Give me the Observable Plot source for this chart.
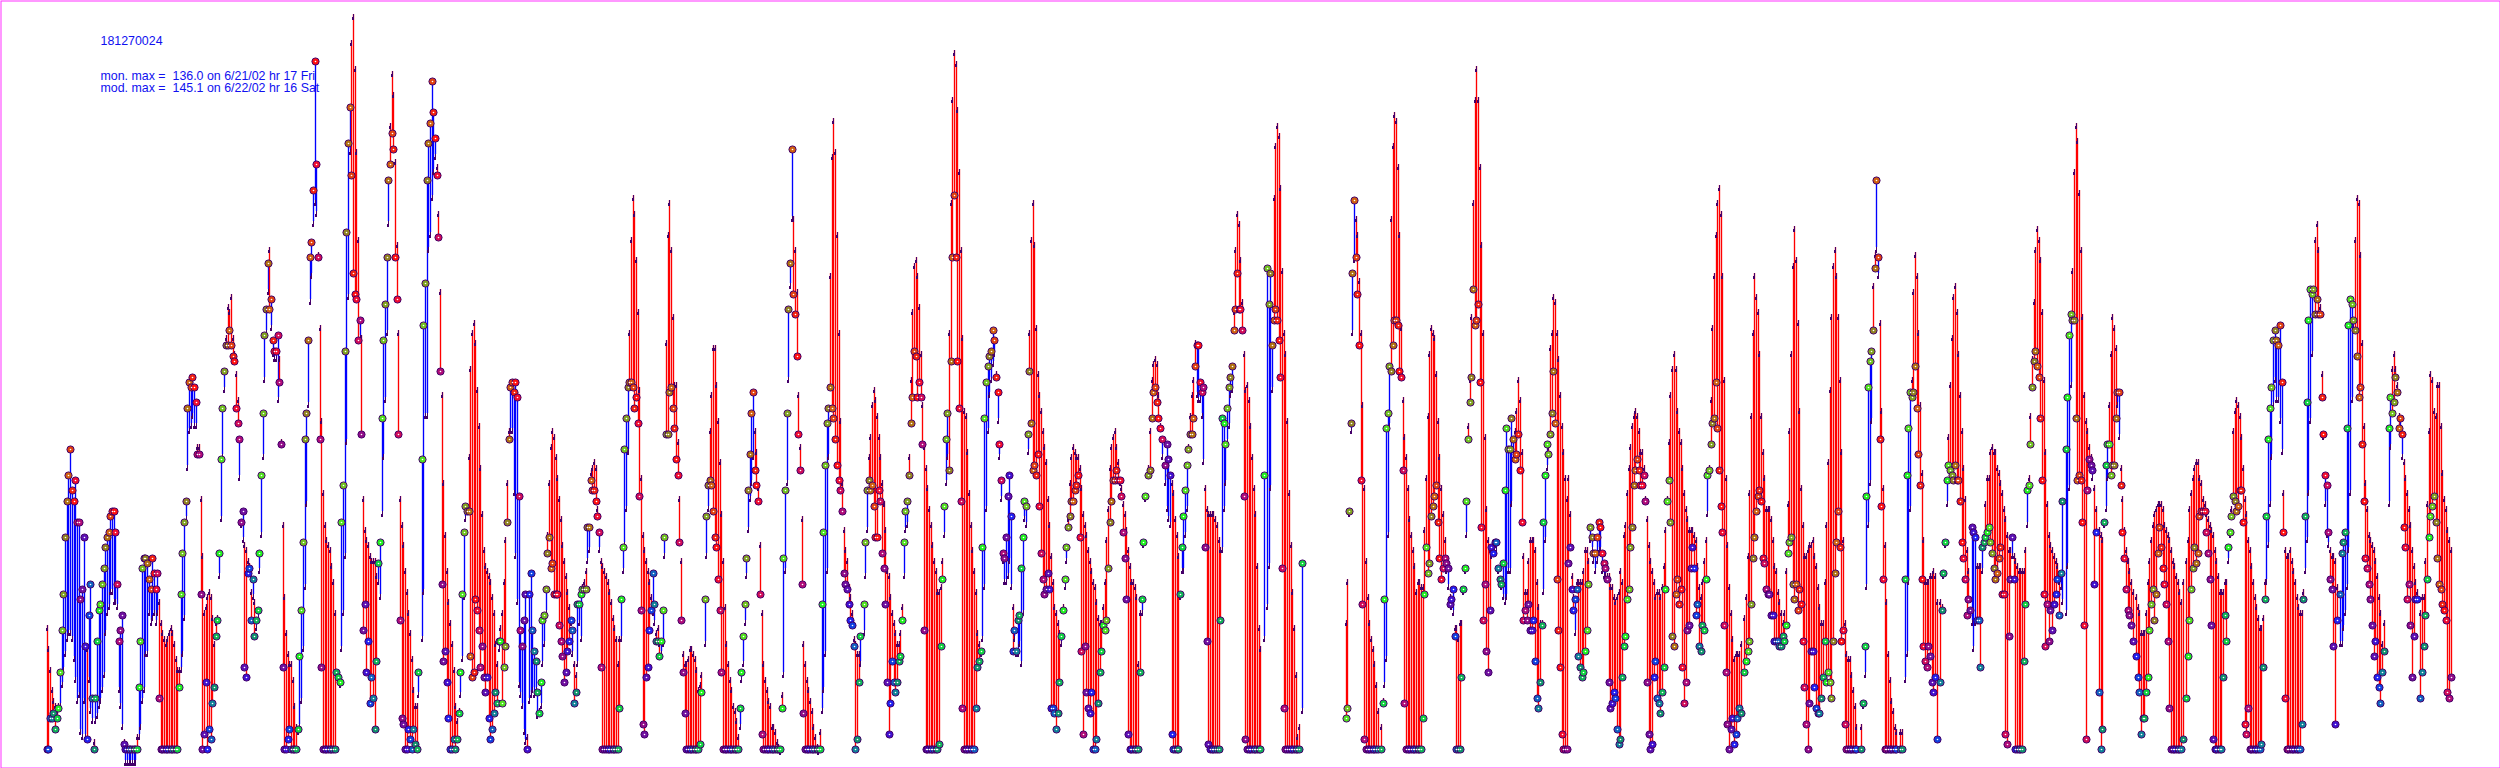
<!DOCTYPE html>
<html><head><meta charset="utf-8">
<style>html,body{margin:0;padding:0;background:#fff}svg{display:block}</style>
<script src="https://cdn.jsdelivr.net/npm/d3@7"></script>
<script src="https://cdn.jsdelivr.net/npm/@observablehq/plot@0.6"></script>
</head><body><div id="chart"></div>
<script>
const _=null;
// Each day: monitor, model pairs for hours 0..23 (ppb)
const d00=[_,_,_,_,_,_,_,_,_,_,_,_,_,_,3,27,3,23,9,19,9,15,10,13,7,12,9,11,11,12,18,12,26,16,33,19,44,22,51,25,56,26,61,26,53,25,51,21];
const d01=[55,17,47,13,47,14,32,7,34,6,44,13,23,6,5,23,29,17,35,11,13,9,3,5,13,9,24,10,30,12,31,13,35,15,38,18,42,26,44,30,45,31,48,34,49,34,49,32];
const d02=[45,32,35,31,24,15,26,12,29,8,4,5,3,1,3,1,3,1,3,1,3,1,3,1,3,1,3,6,15,6,24,8,38,13,40,15,40,22,39,22,36,30,34,28,40,29,37,30];
const d03=[34,28,37,30,13,32,3,28,3,26,3,25,3,24,3,25,3,26,3,27,3,26,3,24,3,21,3,19,15,19,33,19,41,22,47,29,51,48,69,58,74,65,73,66,75,68,73,66];
const d04=[70,66,60,62,60,62,33,52,3,41,6,30,16,31,3,33,7,34,5,33,12,29,15,24,25,28,28,29,41,37,59,48,69,60,76,73,81,83,81,89,84,88,81,91,79,83,78,80];
const d05=[69,76,66,71,63,56,47,47,49,44,19,43,17,42,37,40,38,39,28,34,36,33,25,32,28,27,30,29,41,38,56,45,68,60,83,75,88,84,97,92,88,100,90,85,82,80,80,79];
const d06=[80,79,83,71,74,79,62,63,19,47,3,33,3,26,5,22,7,20,3,20,3,17,3,12,3,8,7,7,21,8,30,13,43,23,63,35,68,51,82,70,98,90,101,95,111,105,136,109];
const d07=[116,107,98,99,63,85,19,67,3,53,3,47,3,44,3,43,3,42,3,39,3,36,3,30,18,18,17,17,16,16,47,23,54,30,80,41,103,63,120,91,127,119,114,140,95,145,91,135];
const d08=[90,119,82,102,86,83,64,83,26,52,31,46,18,44,24,43,12,41,17,40,13,40,7,40,20,37,39,36,43,33,67,49,82,60,89,71,98,84,113,105,116,124,122,134,119,130,98,117];
const d09=[90,101,64,84,28,52,9,47,8,43,3,38,3,34,7,30,5,26,3,21,7,15,4,12,3,12,18,14,_,_,59,25,85,34,93,68,113,68,120,100,124,103,132,110,126,115,121,118];
const d10=[114,116,102,107,76,92,35,72,20,55,22,45,16,38,9,32,3,28,3,24,5,19,3,12,5,9,10,11,18,14,33,21,45,33,50,48,49,50,49,60,21,77,17,84,18,86,32,82];
const d11=[30,73,26,66,19,58,23,49,17,42,14,39,17,38,9,37,5,36,7,33,10,30,14,24,12,20,24,23,24,27,12,30,19,36,23,44,47,55,63,65,73,65,74,65,72,53,74,41];
const d12=[71,32,52,16,26,14,23,12,28,7,33,5,3,6,33,13,37,14,26,15,22,14,20,15,14,10,10,11,16,12,28,20,29,24,34,30,41,45,44,55,38,62,39,65,33,64,33,60];
const d13=[33,56,27,52,24,48,21,43,16,40,18,37,22,34,24,31,28,28,26,22,12,20,14,18,31,20,31,28,33,25,34,35,34,36,34,38,46,40,46,42,55,57,53,58,53,59,51,58];
const d14=[48,50,45,42,19,40,3,39,3,38,3,37,3,36,3,34,3,32,3,29,3,27,3,25,3,20,11,25,32,25,42,38,61,43,67,50,73,61,74,84,74,102,73,110,69,107,71,98];
const d15=[66,88,52,73,30,56,8,45,6,42,17,40,19,38,26,36,30,33,37,30,31,28,24,26,24,27,21,24,24,22,30,24,44,41,64,82,64,103,72,109,73,100,69,87,65,74,59,74];
const d16=[56,63,43,52,28,40,18,22,10,20,3,20,3,21,3,23,3,23,3,22,3,21,3,19,3,15,4,16,14,18,_,_,32,24,48,41,54,50,55,65,54,72,49,81,44,81,42,74];
const d17=[36,67,30,59,18,49,3,40,3,31,3,24,3,20,3,17,3,15,3,12,3,11,3,9,3,6,11,8,18,17,25,20,31,28,40,37,53,46,60,52,68,55,72,60,57,65,54,61];
const d18=[51,54,33,43,6,30,3,20,3,17,3,15,3,13,3,12,3,8,3,8,3,7,3,5,3,4,3,3,11,14,40,18,53,38,68,55,88,75,97,93,119,106,91,106,87,100,79,92];
const d19=[64,72,57,62,35,48,10,24,3,20,3,17,3,15,3,13,3,11,3,8,3,6,3,4,3,3,3,7,31,11,45,15,58,22,66,38,69,60,73,95,69,118,67,125,63,119,58,103];
const d20=[55,84,53,67,49,55,37,46,35,42,34,40,31,35,28,33,27,30,23,25,3,24,5,22,16,22,25,20,_,_,31,26,43,37,53,46,55,60,53,64,54,70,50,73,44,71,44,68];
const d21=[53,64,51,60,41,55,38,51,31,46,16,38,6,37,12,33,20,30,16,28,14,26,16,24,20,24,21,26,28,31,43,37,49,46,51,47,56,60,66,75,71,88,80,97,79,98,71,95];
const d22=[74,89,71,80,62,70,26,62,3,58,3,54,3,50,3,47,3,43,3,40,3,38,3,34,4,34,23,35,36,40,50,45,63,55,68,60,57,84,78,109,98,129,110,138,98,136,78,127];
const d23=[69,115,51,100,11,83,3,69,3,68,3,61,3,53,3,47,3,42,3,38,11,34,19,26,20,24,22,22,42,25,67,35,74,50,77,65,79,72,80,75,84,78,82,80,75,76,72,67];
const d24=[62,60,55,52,41,40,40,36,44,36,52,37,56,40,48,35,22,31,26,25,22,22,28,22,29,24,38,20,44,30,51,48,50,47,64,61,76,84,66,102,57,109,58,101,56,85,60,76];
const d25=[50,72,41,69,36,65,33,62,34,59,37,52,34,47,11,41,11,36,10,31,7,30,10,28,16,26,25,24,30,31,36,35,42,40,46,48,48,55,51,60,51,62,53,61,54,60,56,60];
const d26=[44,58,22,54,6,49,23,47,14,45,11,42,10,40,14,38,3,36,3,35,5,32,12,29,18,28,22,28,27,31,26,36,28,44,38,50,47,58,51,62,55,64,55,65,57,62,55,59];
const d27=[55,55,52,54,45,51,40,49,32,46,6,42,3,39,3,36,3,36,3,35,3,33,3,20,18,30,32,30,43,43,52,52,_,_,56,58,57,65,67,75,72,78,73,79,70,78,67,72];
const d28=[65,66,63,60,_,_,58,55,62,50,59,48,56,47,6,55,3,53,3,48,3,45,3,41,33,33,42,38,48,38,53,45,58,50,61,62,64,68,64,72,67,75,77,82,81,72,81,71];
const d29=[74,71,72,68,73,59,42,54,24,50,4,49,3,49,3,49,3,49,3,48,3,47,3,44,28,42,67,42,66,50,62,55,69,63,73,66,75,72,77,73,84,88,88,100,95,107,88,105];
const d30=[88,98,84,90,52,80,5,73,3,74,3,71,3,66,3,60,3,54,3,49,3,39,3,27,3,23,_,_,56,25,_,_,96,31,89,39,95,54,81,73,86,110,88,120,86,124,82,122];
const d31=[75,112,38,96,11,84,3,80,3,67,3,53,3,43,3,34,3,27,3,18,3,6,3,8,_,_,39,11,_,_,_,_,_,_,_,_,_,_,_,_,_,_,_,_,_,_,_,_];
const d32=[_,_,_,_,_,_,_,_,_,_,_,_,_,_,_,_,_,_,_,_,_,_,_,_,_,_,_,_,_,_,9,28,11,36,49,49,66,65,95,84,109,98,98,106,91,103,81,94];
const d33=[55,84,31,70,5,54,3,40,3,33,3,28,3,25,3,23,3,20,3,16,3,11,_,_,3,8,12,13,32,16,65,21,68,45,77,66,76,106,81,120,86,126,86,125,85,116,76,103];
const d34=[75,85,57,71,12,64,3,60,3,54,3,48,3,45,3,42,3,39,3,34,3,36,3,36,3,35,9,35,33,46,42,56,37,68,39,80,48,85,50,84,52,83,54,76,47,67,40,60];
const d35=[36,54,38,49,40,44,39,38,38,35,31,33,32,31,34,30,25,27,3,27,3,25,3,28,17,28,34,34,38,38,51,45,63,66,70,75,75,87,92,109,85,129,86,135,89,129,74,116];
const d36=[46,101,28,84,35,64,22,50,18,44,30,42,42,41,41,43,43,43,43,42,38,38,36,36,35,35,39,33,53,32,65,33,61,38,61,38,67,51,63,60,59,65,60,69,64,75,57,71];
const d37=[47,61,28,41,30,34,28,34,31,40,26,44,26,44,28,44,20,42,13,36,11,31,16,28,27,28,47,34,56,44,62,58,60,62,64,81,68,84,76,91,66,90,36,84,26,79,19,72];
const d38=[6,66,3,61,3,56,3,52,39,56,42,49,34,37,30,33,32,26,34,36,21,36,19,36,17,36,18,38,22,42,26,42,35,40,46,44,44,42,41,40,41,38,44,40,47,42,46,42];
const d39=[41,38,39,37,38,37,36,37,16,37,11,35,12,35,14,33,13,32,7,33,4,34,5,38,17,36,23,45,25,47,32,53,34,58,42,62,46,66,54,68,57,69,59,68,57,65,54,61];
const d40=[54,61,56,58,51,52,16,48,6,43,3,40,4,38,17,36,20,33,13,34,12,34,10,33,14,35,19,39,34,46,51,52,55,63,47,72,25,77,23,80,33,77,36,69,31,65,34,63];
const d41=[19,58,12,53,16,50,26,48,27,46,38,46,42,46,38,45,29,44,31,39,23,35,22,33,27,36,26,40,36,44,56,49,57,58,62,71,66,85,67,95,74,103,65,109,57,112,50,107];
const d42=[45,95,27,75,18,56,8,43,3,35,7,30,9,25,4,21,6,22,9,22,11,22,10,24,_,_,18,29,20,33,22,41,24,53,31,68,40,84,44,95,49,91,52,88,53,80,51,68];
const d43=[40,61,39,56,34,50,33,50,33,50,29,48,29,44,24,39,24,38,24,34,23,32,23,30,25,28,24,30,27,38,41,51,43,65,44,80,35,97,32,104,35,98,30,86,34,69,31,54];
const d44=[24,47,15,41,8,41,3,42,12,43,22,43,22,44,15,41,11,39,10,35,10,31,13,28,17,28,24,36,16,47,18,59,16,73,13,87,24,97,37,100,43,95,49,87,42,75,24,61];
const d45=[26,44,8,28,3,22,3,21,3,21,3,18,3,15,3,12,3,8,_,_,_,_,3,8,12,12,23,18,52,35,73,47,78,55,80,67,84,93,96,99,113,100,98,95,63,86,50,69];
const d46=[36,54,3,43,3,32,3,22,3,17,3,13,3,11,3,8,3,7,_,_,3,7,3,7,_,_,36,17,56,22,65,36,72,50,71,75,72,92,77,99,69,95,60,84,54,70,36,57];
const d47=[23,44,20,36,19,36,23,36,21,37,16,37,14,38,17,37,5,32,_,_,16,32,30,31,37,37,43,43,55,51,58,64,57,74,56,83,55,91,58,93,55,88,55,80,51,72,43,65];
const d48=[40,58,36,52,29,42,32,38,30,30,46,28,45,23,44,28,28,39,28,39,19,39,42,38,43,44,44,51,45,56,46,56,43,61,41,62,38,61,36,61,37,58,40,57,42,55,33,53];
const d49=[33,50,6,48,4,45,25,42,36,42,44,41,36,41,3,40,3,39,3,38,3,38,3,38,20,38,31,42,53,47,54,56,62,68,73,79,78,90,80,100,77,104,75,102,67,98,55,88];
const d50=[33,75,23,61,31,51,24,45,30,43,26,42,31,41,33,40,36,39,29,36,37,35,51,32,_,_,61,30,71,39,83,54,87,74,86,96,86,115,67,124,55,121,56,111,55,100,47,87];
const d51=[27,72,5,67,53,65,59,62,58,60,57,56,35,54,45,50,_,_,14,46,3,45,7,44,47,47,58,50,62,56,62,70,56,80,58,87,58,85,67,81,72,70,72,64,54,58,45,52];
const d52=[40,46,34,42,30,40,29,38,27,36,24,34,_,_,21,33,17,31,14,30,6,26,9,26,9,26,14,30,17,36,26,40,31,44,34,47,28,49,33,50,41,51,46,51,42,51,38,50];
const d53=[35,47,31,46,24,45,11,44,3,42,3,40,3,39,3,37,3,36,3,34,3,32,5,36,_,_,13,40,21,44,28,50,34,53,38,56,42,58,39,59,41,59,48,56,49,55,49,52];
const d54=[49,51,45,49,41,48,36,47,27,46,5,45,3,42,3,40,3,37,3,34,3,34,17,34,29,36,24,36,42,40,45,45,48,50,52,65,51,69,49,71,50,70,53,68,53,64,47,58];
const d55=[8,52,6,49,11,44,3,42,3,39,3,36,3,33,3,31,3,29,3,27,4,27,19,29,32,36,48,36,63,43,69,51,73,60,82,70,84,75,82,71,81,71,85,67,74,61,45,53];
const d56=[13,42,3,41,3,41,3,42,3,40,3,38,3,36,3,33,3,31,3,30,8,30,32,34,48,38,70,44,86,53,92,67,91,80,92,92,87,102,90,105,87,100,87,89,71,76,64,64];
const d57=[56,51,54,45,45,43,36,42,34,41,23,41,8,40,28,35,_,_,33,24,41,24,43,27,45,30,65,35,85,42,90,53,89,71,86,85,84,102,79,110,71,109,73,99,62,82,51,66];
const d58=[40,55,38,50,35,45,32,44,27,43,21,42,24,40,17,37,15,33,12,30,18,24,22,28,_,_,_,_,65,51,71,62,68,77,70,80,75,77,72,74,65,68,67,65,64,60,46,59];
const d59=[42,56,32,53,35,50,27,47,17,42,25,39,32,36,32,34,_,_,13,30,18,33,23,33,29,40,36,51,44,65,48,76,50,75,52,69,47,68,40,74,35,74,34,66,31,57,30,52];
const d60=[28,50,14,46,13,44,17,42];
const days=[d00,d01,d02,d03,d04,d05,d06,d07,d08,d09,d10,d11,d12,d13,d14,d15,d16,d17,d18,d19,d20,d21,d22,d23,d24,d25,d26,d27,d28,d29,d30,d31,d32,d33,d34,d35,d36,d37,d38,d39,d40,d41,d42,d43,d44,d45,d46,d47,d48,d49,d50,d51,d52,d53,d54,d55,d56,d57,d58,d59,d60];
const siteLabel="181270024";
const monLabel="mon. max =", modLabel="mod. max =";
const monText="136.0 on 6/21/02 hr 17 Fri", modText="145.1 on 6/22/02 hr 16 Sat";
const hourColors=["#f00c30","#d00c58","#b00c78","#900c88","#7010a0","#5c10b4","#4010d0","#2020f0","#1040e0","#1060c0","#108098","#10906c","#10b058","#10d040","#20f020","#50e020","#70c020","#80a020","#908020","#b07010","#d06010","#e04010","#f02010","#ff1010"];

const rows=[];
days.forEach((d,k)=>{
  for(let h=0;h<24;h++){
    const a=d[2*h], b=d[2*h+1];
    if(a!=null&&b!=null) rows.push({t:k*24+h,h,monitor:a,model:b});
  }
});
const flag={draw(c){c.moveTo(-2,2);c.lineTo(-1,2);c.lineTo(-1,-1);c.lineTo(0,-1);c.lineTo(0,5);c.lineTo(-2,5);c.closePath();}};
const textStyle={fontFamily:"Liberation Sans, Arial, sans-serif",fontSize:12.4,fill:"#1010f0",frameAnchor:"top-left",lineAnchor:"middle",textAnchor:"start"};
const plot=Plot.plot({
  width:2500,height:768,margin:0,
  style:{background:"#fff"},
  x:{axis:null,domain:[0,1464],range:[35,35+1.674*1464],round:true},
  y:{axis:null,domain:[0,145],range:[765,14],round:true},
  color:{type:"identity"},
  marks:[
    Plot.frame({stroke:"#ff33ff",inset:0.5,strokeWidth:1}),
    Plot.ruleX(rows,{x:"t",y1:"monitor",y2:"model",stroke:d=>d.model>d.monitor?"#ff0000":"#0000ff",strokeWidth:1.35}),
    Plot.dot(rows,{x:"t",y:"model",symbol:flag,r:3,fill:"#44006a",stroke:"none",shapeRendering:"crispEdges"}),
    Plot.dot(rows,{x:"t",y:"monitor",r:3.6,fill:d=>hourColors[d.h],stroke:"#44006a",strokeWidth:1}),
    Plot.dot(rows,{x:"t",y:"monitor",r:0.8,fill:"#fff",stroke:"none"}),
    Plot.text([siteLabel],{...textStyle,text:d=>d,dx:100,dy:41}),
    Plot.text([monLabel],{...textStyle,text:d=>d,dx:100,dy:76}),
    Plot.text([modLabel],{...textStyle,text:d=>d,dx:100,dy:88}),
    Plot.text([monText],{...textStyle,text:d=>d,dx:172,dy:76}),
    Plot.text([modText],{...textStyle,text:d=>d,dx:172,dy:88})
  ]
});
document.getElementById("chart").append(plot);
</script></body></html>
